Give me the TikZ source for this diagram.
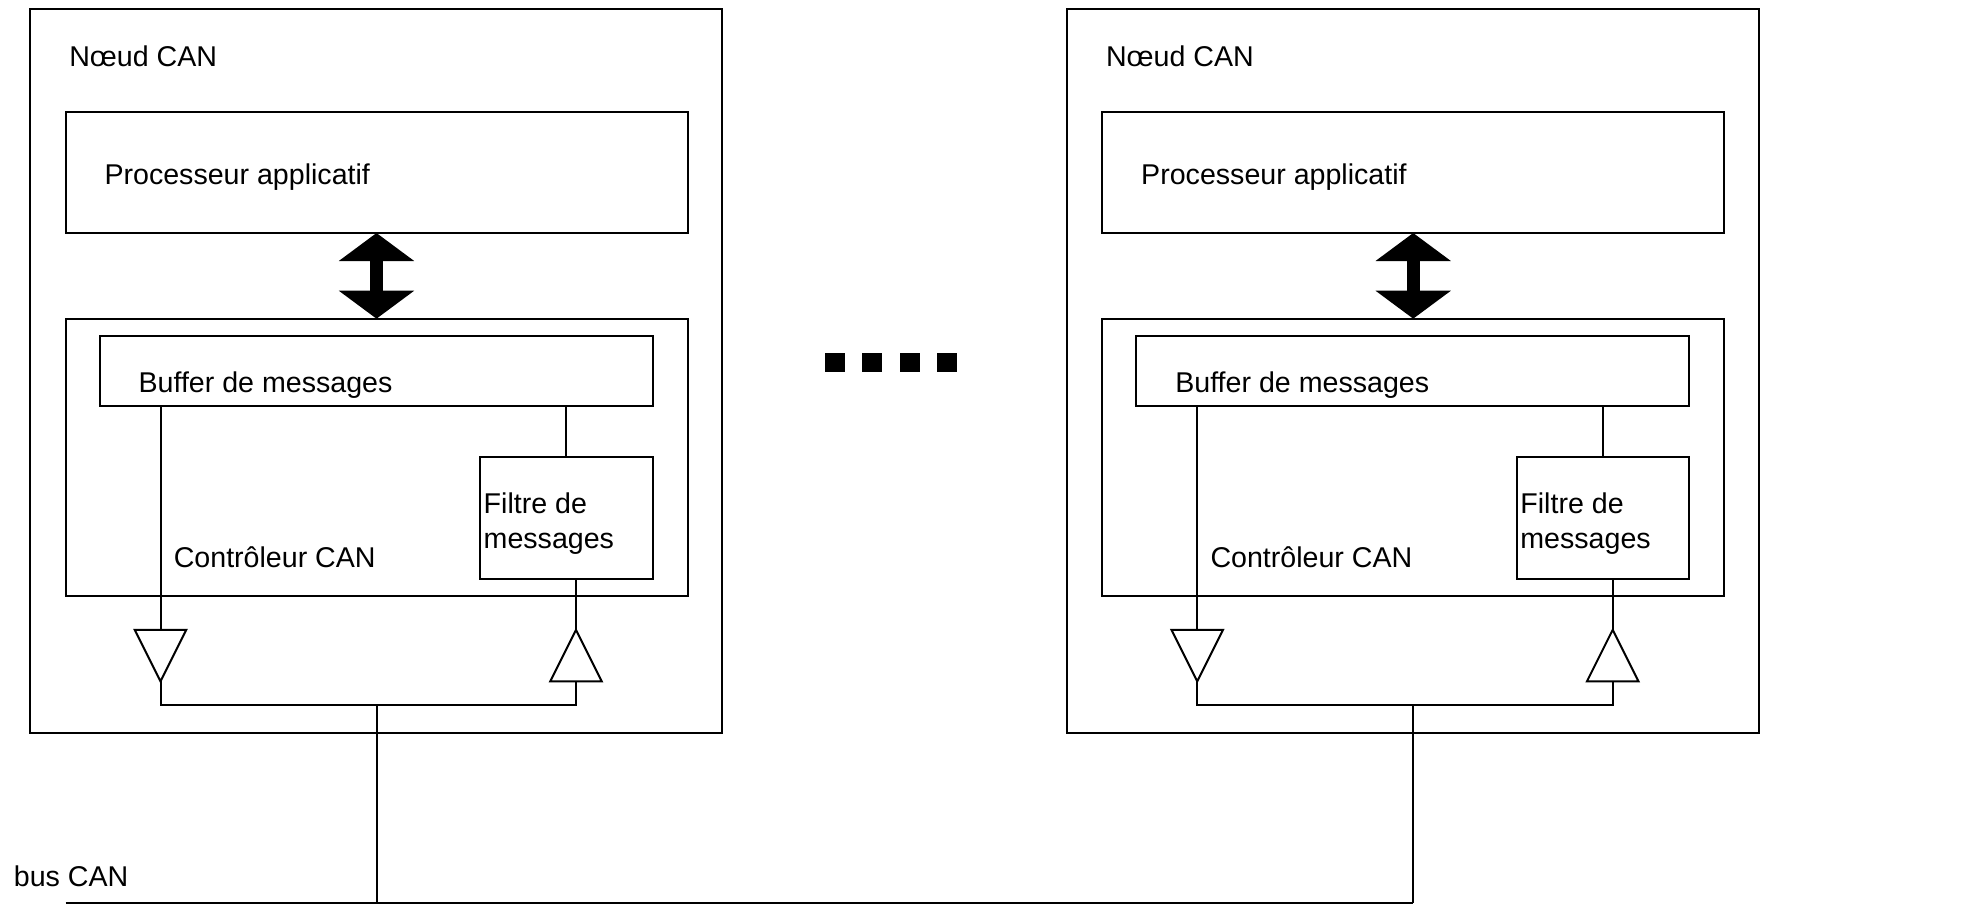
\documentclass[tikz,border=0pt]{standalone}
\usepackage{fontspec}
\setmainfont{Liberation Sans}
\usetikzlibrary{arrows.meta}

\begin{document}
\begin{tikzpicture}[x=0.5pt, y=-0.5pt,
            every node/.style={inner sep=0pt, outer sep=0pt},
            box/.style={draw, line width=1pt, anchor=north west},
            txt/.style={anchor=west, align=left, font=\fontsize{14.3}{17.6}\selectfont},
            wire/.style={line width=1pt},
            bigarrow/.style={line width=6.5pt,
                {Triangle[length=14pt,width=37pt]}-{Triangle[length=14pt,width=37pt]}}]
    \useasboundingbox (0,0) rectangle (1975,905);
    \foreach \i/\dx in {1/0, 2/1036.7} {
        \begin{scope}[shift={(\dx,0)}]
            \node [box, minimum width=346pt, minimum height=362pt] (noeud\i) at (30,9) {};
            \node [box, minimum width=311pt, minimum height=60.5pt] (proc\i) at (65.5,112) {};
            \node [box, minimum width=311pt, minimum height=138.5pt] (ctrl\i) at (65.5,318.7) {};
            \node [box, minimum width=276.5pt, minimum height=34.65pt] (buf\i) at (99.5,336.3) {};
            \node [box, minimum width=86.3pt, minimum height=61.1pt] (filt\i) at (480,457.2) {};
            \node [txt] (noeudtxt\i) at (69.3,56) {Nœud CAN};
            \node [txt] (proctxt\i) at (104.5,177.6) {Processeur applicatif};
            \node [txt] (buftxt\i) at (138.6,385.4) {Buffer de messages};
            \node [txt] (ctrltxt\i) at (173.8,557.5) {Contrôleur CAN};
            \node [txt] (filttxt\i) at (483.7,523.5) {Filtre de\\messages};
            \coordinate (txtop\i) at (160.5,629.8);
            \coordinate (txtip\i) at (160.5,681.4);
            \coordinate (rxtip\i) at (576,629.8);
            \coordinate (rxbase\i) at (576,681.4);
            \coordinate (join\i) at (376.5,705.4);
            \coordinate (tap\i) at (376.5,903);
            % processeur <-> controleur
            \draw [bigarrow] (proc\i.south) -- (ctrl\i.north);
            % emission / reception
            \draw [wire] (buf\i.south -| txtop\i) -- (txtop\i);
            \draw [wire] (buf\i.south -| filt\i.north) -- (filt\i.north);
            \draw [wire] (filt\i.south -| rxtip\i) -- (rxtip\i);
            \draw [wire] ([xshift=-12.9pt]txtop\i) -- ([xshift=12.9pt]txtop\i) -- (txtip\i) -- cycle;
            \draw [wire] ([xshift=-12.9pt]rxbase\i) -- ([xshift=12.9pt]rxbase\i) -- (rxtip\i) -- cycle;
            \draw [wire] (txtip\i) |- (join\i) -| (rxbase\i);
            \draw [wire] (join\i) -- (tap\i);
        \end{scope}
    }
    % bus
    \coordinate (busstart) at (65.5,903);
    \node [txt] (bustxt) at (13.9,876) {bus CAN};
    \draw [wire] (busstart) -- (tap2);
    \foreach \k in {0,...,3}
        \fill (825+37.4*\k,353) rectangle ++(20,19);
\end{tikzpicture}
\end{document}
